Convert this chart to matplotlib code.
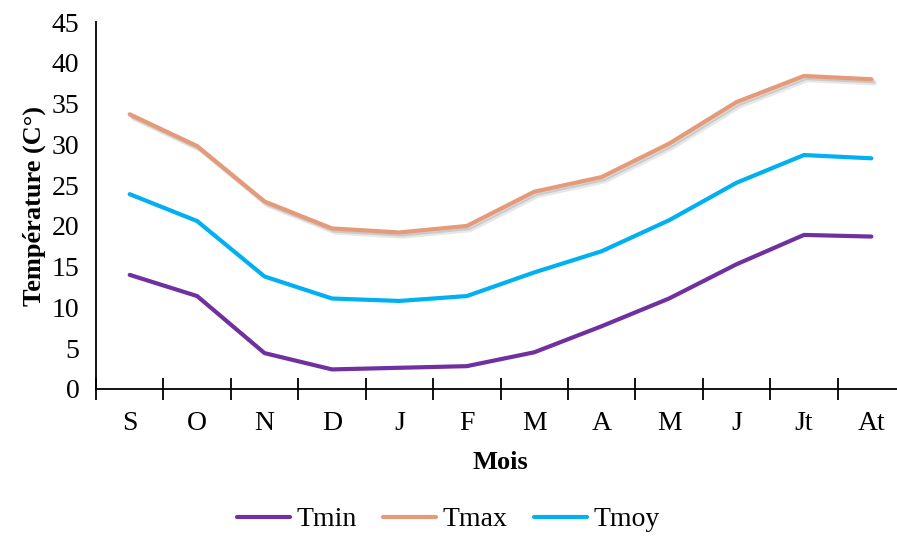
''' Températures mensuelles: Tmin, Tmax, Tmoy '''

import matplotlib
matplotlib.use('Agg')
import matplotlib.pyplot as plt
import matplotlib.patheffects as pe

mois = ['S', 'O', 'N', 'D', 'J', 'F', 'M', 'A', 'M', 'J', 'Jt', 'At']
tmin = [14.0, 11.4, 4.4, 2.4, 2.6, 2.8, 4.5, 7.7, 11.1, 15.3, 18.9, 18.7]
tmax = [33.7, 29.8, 23.0, 19.7, 19.2, 20.0, 24.2, 26.0, 30.1, 35.2, 38.4, 38.0]
tmoy = [23.9, 20.6, 13.8, 11.1, 10.8, 11.4, 14.3, 16.9, 20.7, 25.3, 28.7, 28.3]


def plot_data():
    plt.rcParams['font.family'] = ['Liberation Serif', 'DejaVu Serif']

    fig = plt.figure(figsize=(8.97, 5.41), dpi=100)
    ax = fig.add_axes([0.107, 0.281, 0.902, 0.678])

    x = list(range(len(mois)))
    ax.plot(x, tmin, color='#7030A0', lw=3, label='Tmin',
            solid_capstyle='round')
    # Tmax has a soft drop shadow in the original
    shadow = [pe.SimpleLineShadow(offset=(2.5, -3), shadow_color='#888888', alpha=0.2),
              pe.SimpleLineShadow(offset=(1.5, -1.5), shadow_color='#888888', alpha=0.3),
              pe.Normal()]
    ax.plot(x, tmax, color='#E59A7A', lw=3, label='Tmax',
            solid_capstyle='round', path_effects=shadow)
    ax.plot(x, tmoy, color='#00B0F0', lw=3, label='Tmoy',
            solid_capstyle='round')

    ax.set_xlim(-0.5, len(mois) - 0.5)
    ax.set_ylim(0, 45)
    ax.set_yticks(range(0, 46, 5))
    ax.set_xticks(x)
    ax.set_xticklabels(mois)
    ax.set_xticks([i - 0.5 for i in range(len(mois) + 1)], minor=True)
    ax.tick_params(axis='x', which='major', length=0, labelsize=20, pad=16)
    ax.tick_params(axis='x', which='minor', length=16, width=1.3, direction='inout')
    ax.tick_params(axis='y', length=0, labelsize=20, pad=12)

    for side in ['top', 'right']:
        ax.spines[side].set_visible(False)
    ax.spines['left'].set_linewidth(1.3)
    ax.spines['bottom'].set_linewidth(1.3)

    ax.set_xlabel('Mois', fontsize=19, fontweight='bold', labelpad=11)
    ax.set_ylabel('Température (C°)', fontsize=19, fontweight='bold', labelpad=4)

    leg = fig.legend(loc='lower center', ncol=3, frameon=False, fontsize=20,
                     bbox_to_anchor=(0.5, -0.03), handlelength=1.9,
                     handletextpad=0.25, columnspacing=0.95)
    for line in leg.get_lines():
        line.set_path_effects([])

    plt.savefig('out.png', dpi=100)


if __name__ == '__main__':
    plot_data()
